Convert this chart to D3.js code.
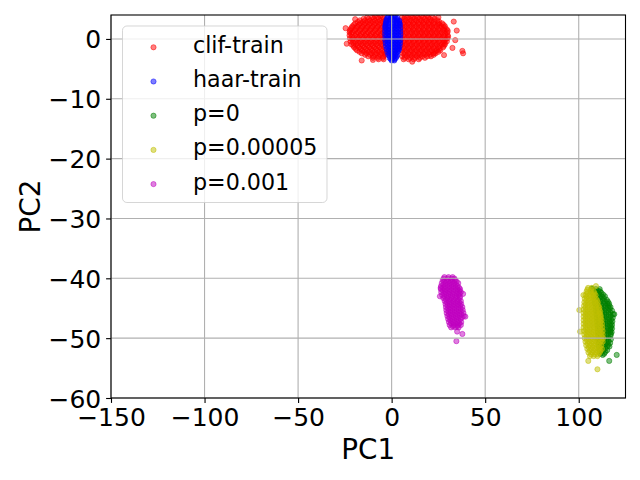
<!DOCTYPE html>
<html>
<head>
<meta charset="utf-8">
<script src="https://cdn.jsdelivr.net/npm/d3@7"></script>
<style>
    body { margin: 0; background: #fff; }
    svg { display: block; font-family: "DejaVu Sans", sans-serif; }
</style>
</head>
<body>
<svg id="chart"></svg>
<script>
const width = 640;
const height = 480;
const margin = { top: 15, right: 14.5, bottom: 82, left: 111 };

const xTicks = [-150, -100, -50, 0, 50, 100];
const yTicks = [0, -10, -20, -30, -40, -50, -60];
const xDomain = [-150, 125];
const yDomain = [-60, 4];

const seriesNames = ["clif-train", "haar-train", "p=0", "p=0.00005", "p=0.001"];
const seriesColors = ["#ff0000", "#0000ff", "#008000", "#bfbf00", "#bf00bf"];

// points, one row per PC2 level: [pc2, [pc1 ...]]
const clifTrainRows = [
    [3.85, [-9, -6, 7, 10, 13, 16, 19]],
    [3.6, [-13, -10.2, -7.4, -4.6, 5.6, 8.4, 11.2, 14, 16.8, 19.6, 22]],
    [3.35, [-15, -12.3, -9.6, -6.9, -4.2, 6.9, 9.6, 12.3, 15, 17.7, 20.4, 23]],
    [3.1, [-17, -14.3, -11.6, -8.9, -6.2, -3.6, 5.2, 7.9, 10.6, 13.3, 16, 18.7, 21.4, 24.5]],
    [2.85, [-18, -15.3, -12.6, -9.9, -7.2, -4.5, 6.6, 9.3, 12, 14.7, 17.4, 20.1, 22.8, 25.5]],
    [2.6, [-19.5, -16.8, -14.1, -11.4, -8.7, -6, -3.4, 6, 8.7, 11.4, 14.1, 16.8, 19.5, 22.2, 24.9, 27]],
    [2.35, [-20.2, -17.5, -14.8, -12.1, -9.4, -6.7, -4, 6.7, 9.4, 12.1, 14.8, 17.5, 20.2, 22.9, 25.6, 27.8]],
    [2.1, [-21, -18.3, -15.6, -12.9, -10.2, -7.5, -4.8, 5.3, 8, 10.7, 13.4, 16.1, 18.8, 21.5, 24.2, 26.7, 28.5]],
    [1.85, [-21.5, -18.8, -16.1, -13.4, -10.7, -8, -5.3, 6.7, 9.4, 12.1, 14.8, 17.5, 20.2, 22.9, 25.6, 28.3]],
    [1.6, [-22, -19.4, -16.7, -14, -11.3, -8.6, -5.9, -3.3, 6, 8.7, 11.4, 14.1, 16.8, 19.5, 22.2, 24.9, 27.6, 29.5]],
    [1.35, [-22.3, -19.6, -16.9, -14.2, -11.5, -8.8, -6.1, -3.5, 6.8, 9.5, 12.2, 14.9, 17.6, 20.3, 23, 25.7, 28.4, 30]],
    [1.1, [-22.5, -20.8, -18, -15.3, -12.6, -9.9, -7.2, -4.5, 5.4, 8.1, 10.8, 13.5, 16.2, 18.9, 21.6, 24.3, 27, 29.8]],
    [0.85, [-21.6, -18.9, -16.2, -13.5, -10.8, -8.1, -5.4, 7, 9.7, 12.4, 15.1, 17.8, 20.5, 23.2, 25.9, 28.6]],
    [0.6, [-22.5, -19.5, -16.8, -14.1, -11.4, -8.7, -6, -3.4, 6.1, 8.8, 11.5, 14.2, 16.9, 19.6, 22.3, 25, 27.7, 30]],
    [0.35, [-21.2, -18.5, -15.8, -13.1, -10.4, -7.7, -5, 6.8, 9.5, 12.2, 14.9, 17.6, 20.3, 23, 25.7, 28.4, 30.2]],
    [0.1, [-22.3, -20.6, -17.9, -15.2, -12.5, -9.8, -7.1, -4.4, 5.5, 8.2, 10.9, 13.6, 16.3, 19, 21.7, 24.4, 27.1, 29.8]],
    [-0.15, [-21, -18.3, -15.6, -12.9, -10.2, -7.5, -4.8, 7, 9.7, 12.4, 15.1, 17.8, 20.5, 23.2, 25.9, 28.6]],
    [-0.4, [-22, -19.3, -16.6, -13.9, -11.2, -8.5, -5.8, -3.3, 6.2, 8.9, 11.6, 14.3, 17, 19.7, 22.4, 25.1, 27.8, 29.5]],
    [-0.65, [-20.6, -17.9, -15.2, -12.5, -9.8, -7.1, -4.4, 6.8, 9.5, 12.2, 14.9, 17.6, 20.3, 23, 25.7, 28.4]],
    [-0.9, [-21.5, -19, -16.3, -13.6, -10.9, -8.2, -5.5, 5.4, 8.1, 10.8, 13.5, 16.2, 18.9, 21.6, 24.3, 27, 28.5]],
    [-1.15, [-20.5, -18.1, -15.4, -12.7, -10, -7.3, -4.6, 6.9, 9.6, 12.3, 15, 17.7, 20.4, 23.1, 25.8, 27.9]],
    [-1.4, [-20, -17.4, -14.7, -12, -9.3, -6.6, -3.9, 6, 8.7, 11.4, 14.1, 16.8, 19.5, 22.2, 24.9, 27.5]],
    [-1.65, [-19.2, -16.5, -13.8, -11.1, -8.4, -5.7, 6.7, 9.4, 12.1, 14.8, 17.5, 20.2, 22.9, 25.6]],
    [-1.9, [-18.5, -15.8, -13.1, -10.4, -7.7, -5, 5.3, 8, 10.7, 13.4, 16.1, 18.8, 21.5, 24.2, 26]],
    [-2.15, [-17.2, -14.5, -11.8, -9.1, -6.4, -3.7, 6.9, 9.6, 12.3, 15, 17.7, 20.4, 23.1, 25]],
    [-2.4, [-16, -13.4, -10.7, -8, -5.3, -3.2, 6.1, 8.8, 11.5, 14.2, 16.9, 19.6, 22.3, 23.5]],
    [-2.65, [-14.2, -11.5, -8.8, -6.1, -3.5, 7, 9.7, 12.4, 15.1, 17.8, 20.5, 22.5]],
    [-2.9, [-12.5, -9.8, -7.1, -4.4, 5.6, 8.3, 11, 13.7, 16.4, 19.1, 21]],
    [-3.15, [-10, -7.3, -4.6, 7, 9.7, 12.4, 15.1, 17.8]],
    [-3.4, [-7, -4.3, 6.4, 9.1, 11.8, 14.5]],
];
const clifTrainStray = [[-24.6, 1.8], [-24, -0.8], [34.8, 1.4], [37.8, -2.0], [38.2, -2.4], [32.5, -1.5],
    [33.2, 2.9], [34, -0.2], [-16, -3.6], [11, -3.8], [-19.5, 3.3], [25, 3.6], [28, -2.7], [-10, -3.5]];

const haarTrainRows = [
    [3.8, [-1.8, 0, 1.8]],
    [3.55, [-2.2, -0.4, 1.4, 3.0]],
    [3.3, [-2.6, -0.8, 1.0, 2.8]],
    [3.05, [-2.8, -0.9, 1.0, 2.9, 4.1]],
    [2.8, [-3.0, -1.1, 0.8, 2.7, 4.0]],
    [2.55, [-3.1, -1.2, 0.8, 2.7, 4.3]],
    [2.3, [-3.3, -1.3, 0.7, 2.7, 4.4]],
    [2.05, [-3.4, -0.4, 1.6, 3.6]],
    [1.8, [-3.4, -1.4, 0.6, 2.6, 4.6]],
    [1.55, [-2.5, -0.5, 1.5, 3.5]],
    [1.3, [-3.5, -1.5, 0.5, 2.5, 4.6]],
    [1.05, [-2.5, -0.4, 1.6, 3.6]],
    [0.8, [-3.5, -1.4, 0.6, 2.6, 4.7]],
    [0.55, [-2.4, -0.4, 1.6, 3.6]],
    [0.3, [-3.4, -1.4, 0.6, 2.6, 4.6]],
    [0.05, [-2.4, -0.3, 1.7, 3.7]],
    [-0.2, [-3.4, -1.3, 0.7, 2.7, 4.6]],
    [-0.45, [-2.2, -0.2, 1.8, 3.8]],
    [-0.7, [-3.2, -1.2, 0.8, 2.8, 4.5]],
    [-0.95, [-2.1, -0.1, 1.9, 3.6]],
    [-1.2, [-3.0, -1.0, 1.0, 3.0, 4.3]],
    [-1.45, [-1.9, 0.1, 2.1, 3.7]],
    [-1.7, [-2.7, -0.8, 1.1, 3.0, 4.0]],
    [-1.95, [-1.5, 0.4, 2.2, 3.6]],
    [-2.2, [-2.3, -0.5, 1.3, 3.1]],
    [-2.45, [-1.2, 0.5, 2.3]],
    [-2.7, [-1.8, 0, 1.8, 3.0]],
    [-2.95, [-0.8, 1.0, 2.6]],
    [-3.2, [-1.0, 0.6, 2.2]],
    [-3.4, [-0.3, 1.5]],
    [-3.6, [0, 1.4]],
];
const haarTrainStray = [];

const pZeroRows = [
    [-41.8, [107.2, 109.2, 111.2]],
    [-42.1, [108.3, 110.4]],
    [-42.4, [107.6, 109.8, 112.0]],
    [-42.7, [108.8, 111.0, 113.0]],
    [-43.0, [108.0, 110.2, 112.4, 114.0]],
    [-43.3, [109.2, 111.4, 113.4]],
    [-43.6, [108.4, 110.6, 112.8, 115.0]],
    [-43.9, [109.5, 111.7, 113.9, 115.6]],
    [-44.2, [108.6, 110.8, 113.0, 115.2, 116.2]],
    [-44.5, [109.8, 112.0, 114.2, 116.2]],
    [-44.8, [109.0, 111.2, 113.4, 115.6, 117.0]],
    [-45.1, [110.1, 112.3, 114.5, 116.6]],
    [-45.4, [109.2, 111.4, 113.6, 115.8, 117.8]],
    [-45.7, [110.3, 112.5, 114.7, 116.9]],
    [-46.0, [109.4, 111.6, 113.8, 116.0, 118.4]],
    [-46.3, [110.5, 112.7, 114.9, 117.2]],
    [-46.6, [109.6, 111.8, 114.0, 116.2, 118.2]],
    [-46.9, [110.7, 112.9, 115.1, 117.3]],
    [-47.2, [109.8, 112.0, 114.2, 116.4, 118.0]],
    [-47.5, [110.9, 113.1, 115.3, 117.2]],
    [-47.8, [110.0, 112.2, 114.4, 116.6, 117.8]],
    [-48.1, [111.1, 113.3, 115.5, 117.3]],
    [-48.4, [110.2, 112.4, 114.6, 116.8, 117.8]],
    [-48.7, [111.3, 113.5, 115.7, 117.0]],
    [-49.0, [110.2, 112.4, 114.6, 116.8, 117.6]],
    [-49.3, [111.3, 113.5, 115.7, 117.2]],
    [-49.6, [110.4, 112.6, 114.8, 117.0]],
    [-49.9, [111.5, 113.7, 115.9]],
    [-50.2, [110.4, 112.6, 114.8, 117.2]],
    [-50.5, [111.5, 113.7, 115.9]],
    [-50.8, [110.6, 112.8, 115.0, 116.8]],
    [-51.1, [111.7, 113.9, 115.8]],
    [-51.4, [110.8, 113.0, 115.2, 116.4]],
    [-51.7, [111.9, 114.1]],
    [-52.0, [111.0, 113.2, 115.2]],
    [-52.3, [112.2, 114.2]],
    [-52.6, [111.6, 113.6]],
];
const pZeroStray = [[120.3, -52.8], [116.3, -53.8], [112.8, -52.8], [119.0, -46.0], [107, -41.7], [111.4, -42.2]];

const pSmallRows = [
    [-41.6, [105.0, 107.0]],
    [-41.9, [104.6, 106.6]],
    [-42.2, [104.2, 106.2, 108.0]],
    [-42.5, [104.6, 106.6, 108.4]],
    [-42.8, [103.6, 105.6, 107.6, 109.0]],
    [-43.1, [104.2, 106.2, 108.2]],
    [-43.4, [103.2, 105.2, 107.2, 109.2]],
    [-43.7, [104.0, 106.0, 108.0, 109.8]],
    [-44.0, [103.0, 105.0, 107.0, 109.0, 110.2]],
    [-44.3, [103.8, 105.8, 107.8, 109.8]],
    [-44.6, [102.8, 104.8, 106.8, 108.8, 110.6]],
    [-44.9, [103.6, 105.6, 107.6, 109.6, 111.0]],
    [-45.2, [102.6, 104.6, 106.6, 108.6, 110.8]],
    [-45.5, [103.6, 105.6, 107.6, 109.6, 111.4]],
    [-45.8, [102.6, 104.6, 106.6, 108.6, 110.6, 111.2]],
    [-46.1, [103.6, 105.6, 107.6, 109.6, 111.6]],
    [-46.4, [102.6, 104.6, 106.6, 108.6, 110.6, 111.8]],
    [-46.7, [103.6, 105.6, 107.6, 109.6, 111.6]],
    [-47.0, [102.6, 104.6, 106.6, 108.6, 110.6, 112.2]],
    [-47.3, [103.6, 105.6, 107.6, 109.6, 111.6]],
    [-47.6, [102.6, 104.6, 106.6, 108.6, 110.6, 112.4]],
    [-47.9, [103.6, 105.6, 107.6, 109.6, 111.6]],
    [-48.2, [102.6, 104.6, 106.6, 108.6, 110.6, 112.6]],
    [-48.5, [103.8, 105.8, 107.8, 109.8, 111.8]],
    [-48.8, [102.8, 104.8, 106.8, 108.8, 110.8, 112.8]],
    [-49.1, [103.9, 105.9, 107.9, 109.9, 111.9]],
    [-49.4, [103.0, 105.0, 107.0, 109.0, 111.0, 112.8]],
    [-49.7, [104.2, 106.2, 108.2, 110.2, 112.2]],
    [-50.0, [103.2, 105.2, 107.2, 109.2, 111.2, 113.0]],
    [-50.3, [104.4, 106.4, 108.4, 110.4, 112.2]],
    [-50.6, [103.6, 105.6, 107.6, 109.6, 111.6, 112.8]],
    [-50.9, [104.8, 106.8, 108.8, 110.8]],
    [-51.2, [104.0, 106.0, 108.0, 110.0, 112.0]],
    [-51.5, [105.3, 107.3, 109.3, 111.3]],
    [-51.8, [104.6, 106.6, 108.6, 110.6, 112.4]],
    [-52.1, [105.9, 107.9, 109.9, 111.6]],
    [-52.4, [105.2, 107.2, 109.2, 111.2]],
    [-52.7, [106.6, 108.6, 110.4]],
    [-53.0, [106.0, 108.0, 110.0]],
];
const pSmallStray = [[109.2, -41.3], [102.5, -42.8], [105.1, -53.8], [110, -55.2], [100.3, -45.3], [100.7, -48.9]];

const pLargeRows = [
    [-39.8, [28.2, 30.4, 32.6]],
    [-40.05, [27.8, 30.0, 32.2, 33.6]],
    [-40.3, [27.3, 29.5, 31.7, 33.9]],
    [-40.55, [28.1, 30.3, 32.5, 34.7]],
    [-40.8, [26.8, 29.0, 31.2, 33.4, 35.6]],
    [-41.05, [27.7, 29.9, 32.1, 34.3]],
    [-41.3, [26.4, 28.6, 30.8, 33.0, 35.2]],
    [-41.55, [27.5, 29.7, 31.9, 34.1, 36.0]],
    [-41.8, [26.3, 28.5, 30.7, 32.9, 35.1, 36.6]],
    [-42.05, [27.4, 29.6, 31.8, 34.0, 36.2]],
    [-42.3, [26.5, 28.7, 30.9, 33.1, 35.3, 37.0]],
    [-42.55, [28.0, 30.2, 32.4, 34.6, 36.4]],
    [-42.8, [27.0, 29.2, 31.4, 33.6, 35.8]],
    [-43.05, [28.2, 30.4, 32.6, 34.8, 36.6]],
    [-43.3, [27.6, 29.8, 32.0, 34.2, 36.4]],
    [-43.55, [29.0, 31.2, 33.4, 35.6]],
    [-43.8, [28.4, 30.6, 32.8, 35.0, 37.0]],
    [-44.05, [29.6, 31.8, 34.0, 36.2]],
    [-44.3, [28.8, 31.0, 33.2, 35.4, 37.2]],
    [-44.55, [30.0, 32.2, 34.4, 36.6]],
    [-44.8, [29.0, 31.2, 33.4, 35.6, 37.8]],
    [-45.05, [30.2, 32.4, 34.6, 36.8]],
    [-45.3, [29.2, 31.4, 33.6, 35.8, 38.0]],
    [-45.55, [30.4, 32.6, 34.8, 37.0]],
    [-45.8, [29.4, 31.6, 33.8, 36.0, 38.4]],
    [-46.05, [30.6, 32.8, 35.0, 37.2]],
    [-46.3, [29.8, 32.0, 34.2, 36.4, 38.6]],
    [-46.55, [31.0, 33.2, 35.4, 37.6]],
    [-46.8, [30.2, 32.4, 34.6, 36.8]],
    [-47.05, [31.4, 33.6, 35.8]],
    [-47.3, [30.6, 32.8, 35.0, 37.2]],
    [-47.55, [31.8, 34.0, 36.2]],
    [-47.8, [31.0, 33.2, 35.4, 37.0]],
    [-48.0, [32.8, 35.0]],
    [-48.2, [31.8, 34.0, 35.8]],
];
const pLargeStray = [[35, -48.9], [37.8, -49.3], [34.6, -50.5], [25.8, -43], [39.4, -46.4], [38.2, -42.6], [26.2, -41.6]];

function toPoints(rows, stray) {
    return rows.flatMap(([y, xs]) => xs.map((x) => [x, y])).concat(stray);
}

const series = [
    toPoints(clifTrainRows, clifTrainStray),
    toPoints(haarTrainRows, haarTrainStray),
    toPoints(pZeroRows, pZeroStray),
    toPoints(pSmallRows, pSmallStray),
    toPoints(pLargeRows, pLargeStray),
];

const svg = d3.select("#chart").attr("width", width).attr("height", height);

const x = d3.scaleLinear().domain(xDomain).range([margin.left, width - margin.right]);
const y = d3.scaleLinear().domain(yDomain).range([height - margin.bottom, margin.top]);

svg.append("clipPath")
    .attr("id", "plot-clip")
    .append("rect")
    .attr("x", x(xDomain[0]))
    .attr("y", y(yDomain[1]))
    .attr("width", x(xDomain[1]) - x(xDomain[0]))
    .attr("height", y(yDomain[0]) - y(yDomain[1]));

// scatter
const dots = svg.append("g").attr("clip-path", "url(#plot-clip)");
series.forEach((points, i) => {
    dots.append("g")
        .selectAll("circle")
        .data(points)
        .enter()
        .append("circle")
        .attr("cx", (d) => x(d[0]))
        .attr("cy", (d) => y(d[1]))
        .attr("r", 2.6)
        .attr("fill", seriesColors[i])
        .attr("fill-opacity", 0.5)
        .attr("stroke", seriesColors[i])
        .attr("stroke-opacity", 0.5)
        .attr("stroke-width", 1);
});

// grid sits above the collections, like matplotlib
const grid = svg.append("g").attr("stroke", "#b0b0b0").attr("stroke-width", 1.1);
grid.selectAll(".gx")
    .data(xTicks)
    .enter()
    .append("line")
    .attr("x1", (d) => x(d)).attr("x2", (d) => x(d))
    .attr("y1", y(yDomain[0])).attr("y2", y(yDomain[1]));
grid.selectAll(".gy")
    .data(yTicks)
    .enter()
    .append("line")
    .attr("x1", x(xDomain[0])).attr("x2", x(xDomain[1]))
    .attr("y1", (d) => y(d)).attr("y2", (d) => y(d));

// axes
const xAxis = svg.append("g")
    .attr("transform", `translate(0,${y(yDomain[0])})`)
    .call(d3.axisBottom(x).tickValues(xTicks).tickSize(4.9).tickSizeOuter(0));
xAxis.selectAll("text").attr("y", 28).attr("dy", null);

const yAxis = svg.append("g")
    .attr("transform", `translate(${x(xDomain[0])},0)`)
    .call(d3.axisLeft(y).tickValues(yTicks).tickSize(4.9).tickSizeOuter(0));
yAxis.selectAll("text").attr("x", -9.8).attr("dy", "0.36em");

[xAxis, yAxis].forEach((g) => {
    g.select(".domain").remove();
    g.selectAll("line").attr("stroke", "#000").attr("stroke-width", 1.1);
    g.selectAll("text")
        .attr("fill", "#000")
        .attr("font-size", 25)
        .attr("font-family", "DejaVu Sans");
});

svg.append("rect")
    .attr("x", x(xDomain[0]))
    .attr("y", y(yDomain[1]))
    .attr("width", x(xDomain[1]) - x(xDomain[0]))
    .attr("height", y(yDomain[0]) - y(yDomain[1]))
    .attr("fill", "none")
    .attr("stroke", "#000")
    .attr("stroke-width", 1.1);

svg.append("text")
    .attr("x", (x(xDomain[0]) + x(xDomain[1])) / 2)
    .attr("y", 459)
    .attr("text-anchor", "middle")
    .attr("font-size", 27.8)
    .text("PC1");

svg.append("text")
    .attr("transform", `translate(40,${(y(yDomain[0]) + y(yDomain[1])) / 2}) rotate(-90)`)
    .attr("text-anchor", "middle")
    .attr("font-size", 27.8)
    .text("PC2");

// legend
const fontSize = 22.2;
const legend = svg.append("g");
legend.append("rect")
    .attr("x", 122.5)
    .attr("y", 26)
    .attr("width", 204.5)
    .attr("height", 176.5)
    .attr("rx", 4.4)
    .attr("fill", "#fff")
    .attr("fill-opacity", 0.8)
    .attr("stroke", "#cccccc")
    .attr("stroke-opacity", 0.8)
    .attr("stroke-width", 1);

const entries = legend.selectAll(".entry")
    .data(seriesNames)
    .enter()
    .append("g")
    .attr("transform", (d, i) => `translate(0,${47.3 + i * 34.2})`);
entries.append("circle")
    .attr("cx", 153.5)
    .attr("r", 2.6)
    .attr("fill", (d, i) => seriesColors[i])
    .attr("fill-opacity", 0.5)
    .attr("stroke", (d, i) => seriesColors[i])
    .attr("stroke-opacity", 0.5)
    .attr("stroke-width", 1);
entries.append("text")
    .attr("x", 193)
    .attr("y", 5.5)
    .attr("font-size", fontSize)
    .text((d) => d);
</script>
</body>
</html>
